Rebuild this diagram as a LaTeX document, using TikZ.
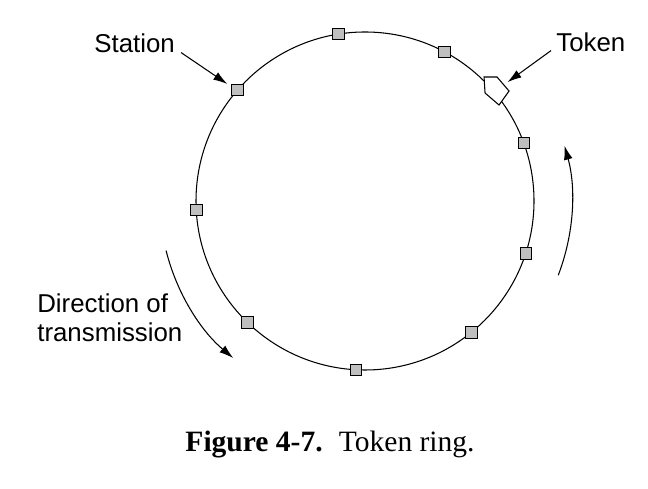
\documentclass[tikz,border=0pt]{standalone}
\usepackage{fontspec}
\setmainfont{Liberation Serif}
\newfontfamily\labelfont{Liberation Sans}
\usetikzlibrary{arrows.meta}

\begin{document}
\begin{tikzpicture}[x=0.02cm, y=0.02cm,
        station/.style = {draw, fill=black!25, minimum size=0.23cm, inner sep=0pt, line width=0.5pt},
        lbl/.style = {font=\labelfont\fontsize{14.7}{17}\selectfont, inner sep=0pt},
        pointer/.style = {-{Latex[length=8pt, width=5pt]}, line width=0.6pt}]
        \useasboundingbox (0,0) rectangle (648,489);
        \coordinate (ring) at (365,288);
        \draw[line width=0.6pt] (ring) circle (169);
        % stations on the ring
        \foreach \a [count=\i] in {99,62,20,-18,-51,-93,-134,183,139}
            \node[station] (s\i) at ([shift={(\a:169)}]ring) {};
        % the token
        \coordinate (tok) at ([shift={(41:169)}]ring);
        \draw[fill=white, line width=0.6pt, shift={(tok)}] (-8.5,13.1) -- (4.5,13.1) -- (16.5,-0.9) -- (6.5,-14.9) -- (-7.5,-2.9) -- cycle;
        \coordinate (toktip) at ([shift={(15,8)}]tok);
        % labels
        \node[lbl, anchor=base west] (stationlbl) at (94,436) {Station};
        \node[lbl, anchor=base west] (tokenlbl) at (556,437) {Token};
        \node[lbl, anchor=north west, align=left] (dirlbl) at (37,196) {Direction of\\transmission};
        \draw[pointer] ([shift={(6,1)}]stationlbl.south east) -- ([shift={(-4,0)}]s9.north west);
        \draw[pointer] ([shift={(-5,2)}]tokenlbl.south west) -- (toktip);
        % direction of transmission
        \draw[pointer] ([shift={(194:205)}]ring) arc (194:230:205);
        \draw[pointer] ([shift={(-21:207)}]ring) arc (-21:15.5:207);
        \node[anchor=base] (caption) at (330,37) {\fontsize{16.8}{20}\selectfont\textbf{Figure 4-7.}\hspace{0.55em}Token ring.};
\end{tikzpicture}
\end{document}
